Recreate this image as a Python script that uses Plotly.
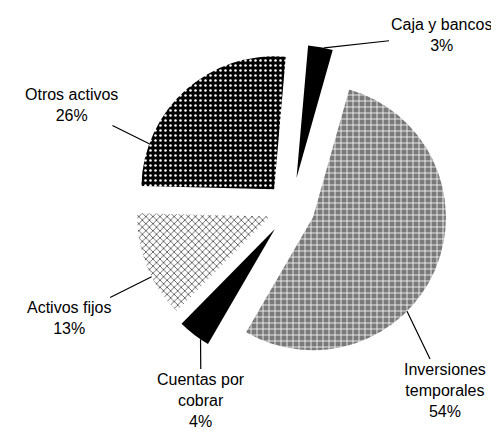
import math

import plotly.graph_objects as go

# data
labels = ["Caja y bancos", "Inversiones temporales", "Cuentas por cobrar", "Activos fijos", "Otros activos"]
values = [3, 54, 4, 13, 26]
label_text = ["Caja y bancos", "Inversiones<br>temporales", "Cuentas por<br>cobrar", "Activos fijos", "Otros activos"]

# styles
pulls = [0.23, 0.18, 0.2, 0.17, 0.19]
bg_colors = ["black", "#7a7a7a", "black", "white", "black"]
pat_shapes = ["", "+", "", "x", "."]
pat_fg = ["black", "white", "black", "#505050", "white"]
pat_size = [6, 6, 6, 5, 5]
pat_solid = [0.3, 0.25, 0.3, 0.3, 0.2]

W, H = 499, 429
ROTATION = 5
DOM_X = [0.2395, 0.8948]
DOM_Y = [0.1527, 0.9149]

# where each leader line touches its slice (deg clockwise from 12 o'clock)
leader_angles = [12, 135, 214, 243, 290]
# text block centres in pixels
label_px = [(433, 27), (437, 382), (193, 392), (61, 310), (63, 97)]

fig = go.Figure()
fig.add_trace(
    go.Pie(
        labels=labels,
        values=values,
        sort=False,
        direction="clockwise",
        rotation=ROTATION,
        pull=pulls,
        textinfo="none",
        hoverinfo="label+percent",
        domain={"x": DOM_X, "y": DOM_Y},
        marker={
            "colors": bg_colors,
            "line": {"width": 0},
            "pattern": {
                "shape": pat_shapes,
                "fgcolor": pat_fg,
                "bgcolor": bg_colors,
                "size": pat_size,
                "solidity": pat_solid,
                "fillmode": "replace",
            },
        },
    )
)

# pie geometry, same as plotly computes it
cx = W * (DOM_X[0] + DOM_X[1]) / 2
cy = H * (1 - (DOM_Y[0] + DOM_Y[1]) / 2)
r = min(W * (DOM_X[1] - DOM_X[0]), H * (DOM_Y[1] - DOM_Y[0])) / 2 / (1 + max(pulls))
total = sum(values)

annotations = []
cum = 0
for i, v in enumerate(values):
    mid = math.radians(ROTATION + (cum + v / 2) / total * 360)
    cum += v
    px = cx + pulls[i] * r * math.sin(mid)
    py = cy - pulls[i] * r * math.cos(mid)
    a = math.radians(leader_angles[i])
    hx = px + r * math.sin(a)
    hy = py - r * math.cos(a)
    tx, ty = label_px[i]
    annotations.append(
        dict(
            x=hx / W,
            y=1 - hy / H,
            xref="paper",
            yref="paper",
            ax=tx - hx,
            ay=ty - hy,
            text=f"{label_text[i]}<br>{v}%",
            showarrow=True,
            arrowhead=0,
            arrowwidth=1.2,
            arrowcolor="black",
            standoff=0,
            font={"family": "Liberation Sans", "size": 16, "color": "black"},
            align="center",
        )
    )

fig.update_layout(
    width=W,
    height=H,
    margin={"l": 0, "r": 0, "t": 0, "b": 0},
    showlegend=False,
    paper_bgcolor="white",
    plot_bgcolor="white",
    annotations=annotations,
)

fig.write_html("out.html")
